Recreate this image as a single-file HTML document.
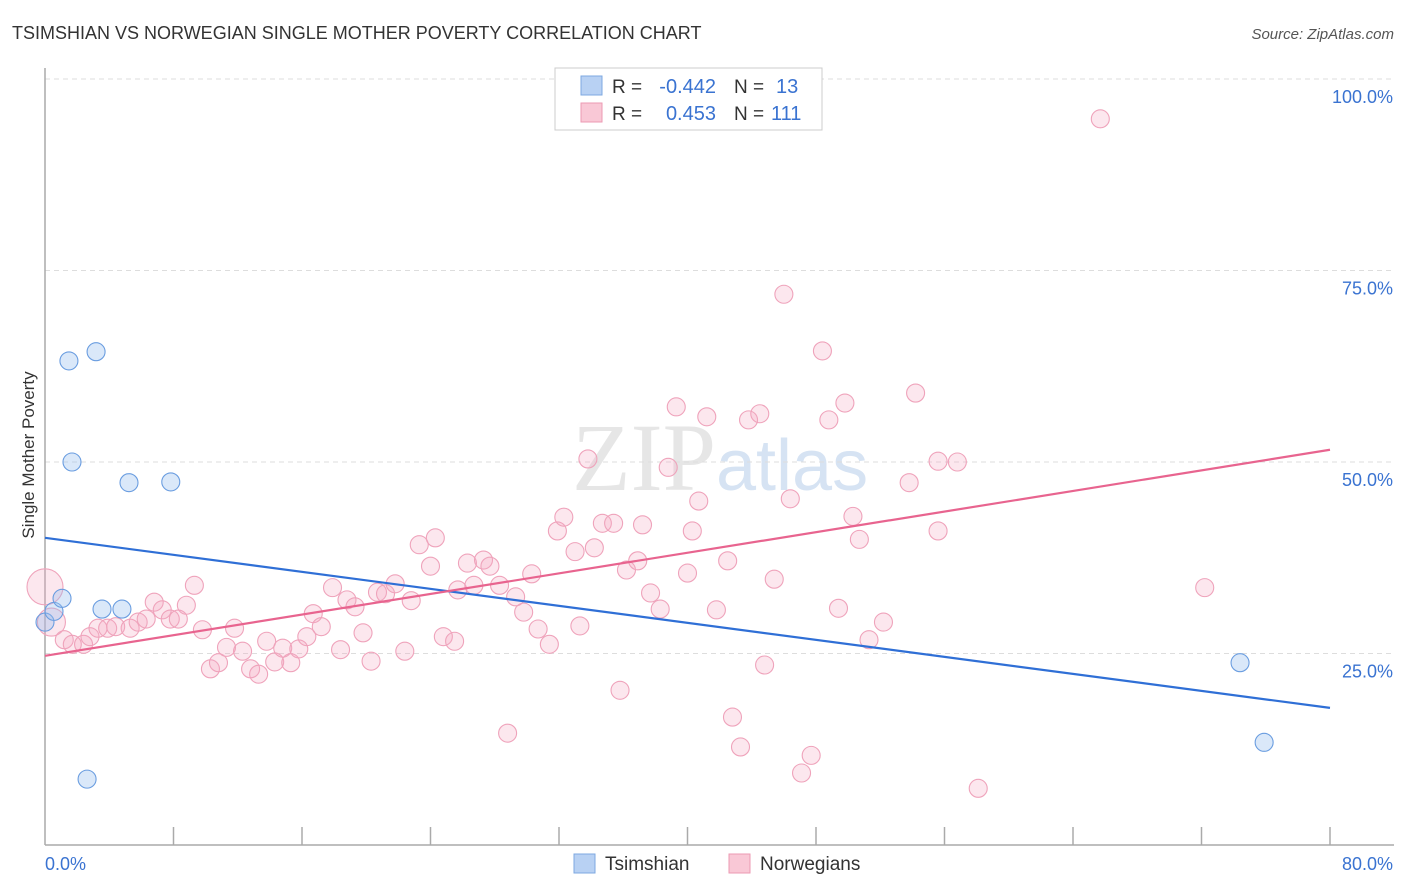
<!DOCTYPE html>
<html><head><meta charset="utf-8"><style>
body{margin:0;background:#fff;font-family:"Liberation Sans",sans-serif}
#wrap{position:relative;width:1406px;height:892px;overflow:hidden}
</style></head><body>
<div id="wrap">
<svg id="svg" width="1406" height="892" xmlns="http://www.w3.org/2000/svg">
<text x="12" y="39" font-size="18" fill="#333">TSIMSHIAN VS NORWEGIAN SINGLE MOTHER POVERTY CORRELATION CHART</text>
<text x="1394" y="39" font-size="15" fill="#555" text-anchor="end" font-style="italic">Source: ZipAtlas.com</text>
<text x="716" y="490" font-size="96" fill="#e6e6e6" text-anchor="end" font-family="Liberation Serif,serif">ZIP</text>
<text x="716" y="490" font-size="72" fill="#d6e3f3">atlas</text>
<text transform="translate(34,455) rotate(-90)" font-size="17" fill="#333" text-anchor="middle">Single Mother Poverty</text>
<g id="grid"></g><g id="pts"></g><g id="lines"></g>
<g>
<rect x="555" y="68" width="267" height="62" fill="#fff" stroke="#ccc"/>
<rect x="581" y="76" width="21" height="19" fill="#b8d1f3" stroke="#7ea8e0"/>
<rect x="581" y="103" width="21" height="19" fill="#f9c8d6" stroke="#ec9ab3"/>
<text x="612" y="93" font-size="19" fill="#333">R =</text>
<text x="716" y="93" font-size="20" fill="#3a73d1" text-anchor="end">-0.442</text>
<text x="734" y="93" font-size="19" fill="#333">N =</text>
<text x="776" y="93" font-size="20" fill="#3a73d1">13</text>
<text x="612" y="120" font-size="19" fill="#333">R =</text>
<text x="716" y="120" font-size="20" fill="#3a73d1" text-anchor="end">0.453</text>
<text x="734" y="120" font-size="19" fill="#333">N =</text>
<text x="771" y="120" font-size="20" fill="#3a73d1">111</text>
</g>
<g>
<rect x="574" y="854" width="21" height="19" fill="#b8d1f3" stroke="#7ea8e0"/>
<text x="605" y="870" font-size="19" fill="#333">Tsimshian</text>
<rect x="729" y="854" width="21" height="19" fill="#f9c8d6" stroke="#ec9ab3"/>
<text x="760" y="870" font-size="19" fill="#333">Norwegians</text>
</g>
</svg></div>
<script>
const xTicks=[0,8,16,24,32,40,48,56,64,72,80];
const yTicks=[25,50,75,100];
const tsX=[0,0.56,1.06,1.49,1.68,2.62,3.18,3.55,4.79,5.23,7.83,74.4,75.9];
const tsY=[29.1,30.5,32.2,63.2,50.0,8.6,64.4,30.8,30.8,47.3,47.4,23.8,13.4];
const noX=[0.0,0.4,1.2,1.7,2.4,2.8,3.3,3.9,4.4,5.3,5.8,6.3,6.8,7.3,7.8,8.3,8.8,9.3,9.8,10.3,10.8,11.3,11.8,12.3,12.8,13.3,13.8,14.3,14.8,15.3,15.8,16.3,16.7,17.2,17.9,18.4,18.8,19.3,19.8,20.3,20.7,21.2,21.8,22.4,22.8,23.3,24.0,24.3,24.8,25.5,25.7,26.3,26.7,27.3,27.7,28.3,28.8,29.3,29.8,30.3,30.7,31.4,31.9,32.3,33.0,33.3,33.8,34.2,34.7,35.4,35.8,36.2,36.9,37.2,37.7,38.3,38.8,39.3,40.0,40.3,40.7,41.2,41.8,42.5,42.8,43.3,43.8,44.5,44.8,45.4,46.0,46.4,47.1,47.7,48.4,48.8,49.4,49.8,50.3,50.7,51.3,52.2,53.8,54.2,55.6,55.6,56.8,58.1,65.7,72.2];
const noY=[33.7,29.1,26.8,26.2,26.2,27.2,28.3,28.3,28.5,28.3,29.1,29.5,31.7,30.7,29.5,29.5,31.3,33.9,28.1,23.0,23.8,25.8,28.3,25.3,23.0,22.3,26.6,23.9,25.7,23.8,25.6,27.2,30.2,28.5,33.6,25.5,32.0,31.1,27.7,24.0,33.0,32.8,34.1,25.3,31.9,39.2,36.4,40.1,27.2,26.6,33.3,36.8,33.9,37.2,36.4,33.9,14.6,32.4,30.4,35.4,28.2,26.2,41.0,42.8,38.3,28.6,50.4,38.8,42.0,42.0,20.2,35.9,37.1,41.8,32.9,30.8,49.3,57.2,35.5,41.0,44.9,55.9,30.7,37.1,16.7,12.8,55.5,56.3,23.5,34.7,71.9,45.2,9.4,11.7,64.5,55.5,30.9,57.7,42.9,39.9,26.8,29.1,47.3,59.0,50.1,41.0,50.0,7.4,94.8,33.6];
const tsLine=[40.1,17.9];
const noLine=[24.7,51.6];
const NS="http://www.w3.org/2000/svg";
const X=v=>45+v*1285/80, Y=v=>845-v*7.66;
function mk(t,a,p){const e=document.createElementNS(NS,t);for(const k in a)e.setAttribute(k,a[k]);p.appendChild(e);return e;}
const grid=document.getElementById('grid'),pts=document.getElementById('pts'),lines=document.getElementById('lines');
yTicks.forEach(t=>{const l=mk('line',{x1:45,x2:1394,y1:Y(t),y2:Y(t),stroke:'#ddd','stroke-dasharray':'5,4'},grid);


const tx=mk('text',{x:1393,y:Y(t)+24,'font-size':18,fill:'#3a73d1','text-anchor':'end'},grid);tx.textContent=t.toFixed(1)+'%';

});
mk('line',{x1:45,x2:45,y1:68,y2:845,stroke:'#aaa','stroke-width':1.5},grid);
mk('line',{x1:45,x2:1394,y1:845,y2:845,stroke:'#aaa','stroke-width':1.5},grid);
xTicks.forEach(t=>{if(t>0){const l=mk('line',{x1:X(t),x2:X(t),y1:827,y2:845,stroke:'#aaa','stroke-width':1.5},grid);

}});
[[0,'start'],[80,'end']].forEach(([t,a])=>{const tx=mk('text',{x:t?1393:45,y:870,'font-size':18,fill:'#3a73d1','text-anchor':a},grid);tx.textContent=t.toFixed(1)+'%';

});
noX.forEach((x,i)=>{const r=i==0?18:(i==1?14:9);const c=mk('circle',{cx:X(x),cy:Y(noY[i]),r:r,fill:'rgba(246,170,194,0.28)',stroke:'#efa3bb','stroke-width':1.1},pts);

});
tsX.forEach((x,i)=>{const c=mk('circle',{cx:X(x),cy:Y(tsY[i]),r:9,fill:'rgba(150,188,238,0.35)',stroke:'#6a9de0','stroke-width':1.1},pts);

});
const l1=mk('line',{x1:X(0),x2:X(80),y1:Y(tsLine[0]),y2:Y(tsLine[1]),stroke:'#2f6fd6','stroke-width':2.2},lines);


const l2=mk('line',{x1:X(0),x2:X(80),y1:Y(noLine[0]),y2:Y(noLine[1]),stroke:'#e8648f','stroke-width':2.2},lines);


</script>
</body></html>
